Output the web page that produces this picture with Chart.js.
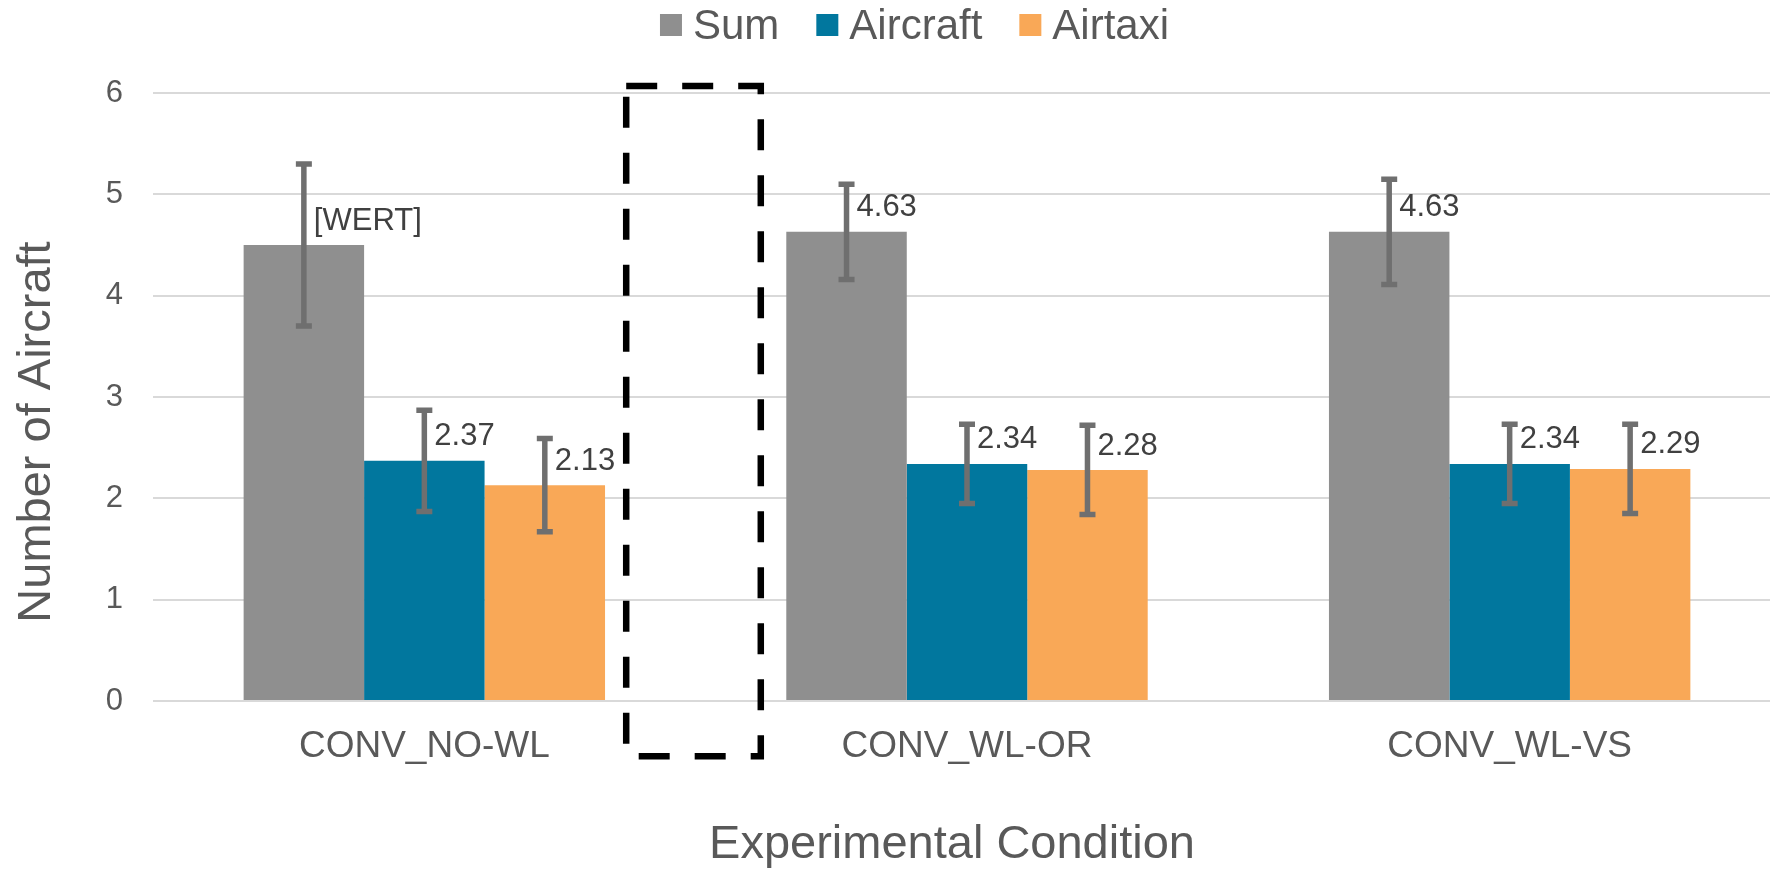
<!DOCTYPE html>
<html>
<head>
<meta charset="utf-8">
<script src="https://cdn.jsdelivr.net/npm/chart.js@4.4.1/dist/chart.umd.min.js"></script>
<style>
html,body{margin:0;padding:0;background:#fff;overflow:hidden;width:1770px;height:872px}
canvas{display:block}
</style>
</head>
<body>
<canvas id="c" width="1781" height="872"></canvas>
<script>
// ---- data ----
const categories = ['CONV_NO-WL', 'CONV_WL-OR', 'CONV_WL-VS'];
const seriesNames = ['Sum', 'Aircraft', 'Airtaxi'];
const sumValues = [4.50, 4.63, 4.63];
const aircraftValues = [2.37, 2.34, 2.34];
const airtaxiValues = [2.13, 2.28, 2.29];
const sumErrors = [0.80, 0.47, 0.52];
const aircraftErrors = [0.50, 0.39, 0.39];
const airtaxiErrors = [0.46, 0.44, 0.44];
const sumLabels = ['[WERT]', '4.63', '4.63'];
const aircraftLabels = ['2.37', '2.34', '2.34'];
const airtaxiLabels = ['2.13', '2.28', '2.29'];
const yTickValues = [0, 1, 2, 3, 4, 5, 6];
const xTitle = 'Experimental Condition';
const yTitle = 'Number of Aircraft';
// dashed highlight box, in category-index / value units
const highlightX = [0.372, 0.62];
const highlightY = [-0.545, 6.07];

const FONT = '"Liberation Sans", Arial, Helvetica, sans-serif';
const colors = ['#8f8f8f', '#01779e', '#f9a857'];
const errorSets = [sumErrors, aircraftErrors, airtaxiErrors];
const labelSets = [sumLabels, aircraftLabels, airtaxiLabels];
const valueSets = [sumValues, aircraftValues, airtaxiValues];

const extras = {
  id: 'extras',
  afterDatasetsDraw(chart) {
    const ctx = chart.ctx;
    const ys = chart.scales.y;
    ctx.save();
    // data labels
    ctx.font = '31px ' + FONT;
    ctx.fillStyle = '#404040';
    ctx.textAlign = 'left';
    ctx.textBaseline = 'middle';
    chart.data.datasets.forEach((ds, di) => {
      const meta = chart.getDatasetMeta(di);
      meta.data.forEach((bar, i) => {
        ctx.fillText(labelSets[di][i], bar.x + 10, bar.y - 24);
      });
    });
    // error bars
    ctx.strokeStyle = '#6f6f6f';
    ctx.lineWidth = 5.5;
    ctx.lineCap = 'butt';
    chart.data.datasets.forEach((ds, di) => {
      const meta = chart.getDatasetMeta(di);
      meta.data.forEach((bar, i) => {
        const v = valueSets[di][i], e = errorSets[di][i];
        const yt = ys.getPixelForValue(v + e);
        const yb = ys.getPixelForValue(v - e);
        ctx.beginPath();
        ctx.moveTo(bar.x, yt); ctx.lineTo(bar.x, yb);
        ctx.moveTo(bar.x - 8, yt); ctx.lineTo(bar.x + 8, yt);
        ctx.moveTo(bar.x - 8, yb); ctx.lineTo(bar.x + 8, yb);
        ctx.stroke();
      });
    });
    ctx.restore();
  },
  afterDraw(chart) {
    const ctx = chart.ctx;
    const ys = chart.scales.y, xs = chart.scales.x;
    ctx.save();
    // dashed highlight box
    const x0 = xs.getPixelForValue(highlightX[0]);
    const x1 = xs.getPixelForValue(highlightX[1]);
    const y0 = ys.getPixelForValue(highlightY[1]);
    const y1 = ys.getPixelForValue(highlightY[0]);
    ctx.strokeStyle = '#000';
    ctx.lineWidth = 6.5;
    ctx.setLineDash([31, 25]);
    ctx.beginPath();
    ctx.rect(x0, y0, x1 - x0, y1 - y0);
    ctx.stroke();
    ctx.setLineDash([]);

    // legend
    ctx.font = '42px ' + FONT;
    ctx.textBaseline = 'middle';
    ctx.textAlign = 'left';
    const box = 22, gapText = 11, gapItem = 37;
    const widths = seriesNames.map(n => ctx.measureText(n).width);
    let total = 0;
    widths.forEach((w, i) => { total += box + gapText + w + (i ? gapItem : 0); });
    let x = 914.5 - total / 2;
    seriesNames.forEach((n, i) => {
      ctx.fillStyle = colors[i];
      ctx.fillRect(x, 14, box, box);
      x += box + gapText;
      ctx.fillStyle = '#595959';
      ctx.fillText(n, x, 27);
      x += widths[i] + gapItem;
    });

    // axis titles
    ctx.font = '47px ' + FONT;
    ctx.fillStyle = '#595959';
    ctx.textAlign = 'center';
    ctx.fillText(xTitle, 952, 845);
    ctx.translate(37, 432);
    ctx.rotate(-Math.PI / 2);
    ctx.fillText(yTitle, 0, 0);
    ctx.restore();
  }
};

new Chart(document.getElementById('c'), {
  type: 'bar',
  data: {
    labels: categories,
    datasets: seriesNames.map((name, i) => ({
      label: name,
      data: valueSets[i],
      backgroundColor: colors[i],
      borderWidth: 0,
      categoryPercentage: 0.666,
      barPercentage: 1.0
    }))
  },
  options: {
    responsive: false,
    animation: false,
    layout: { padding: { top: 93, left: 0, right: 0, bottom: 0 } },
    plugins: {
      legend: { display: false },
      tooltip: { enabled: false },
      title: { display: false }
    },
    scales: {
      x: {
        offset: true,
        grid: { display: false, drawTicks: false },
        border: { display: false },
        ticks: { color: '#595959', font: { family: FONT, size: 37 }, padding: 24, maxRotation: 0 },
        afterFit(scale) { scale.height = 171; }
      },
      y: {
        min: 0,
        max: 6,
        afterBuildTicks(scale) { scale.ticks = yTickValues.map(v => ({ value: v })); },
        grid: { color: '#d9d9d9', lineWidth: 2, drawTicks: false },
        border: { display: false },
        ticks: { color: '#595959', font: { family: FONT, size: 31 }, padding: 30 },
        afterFit(scale) { scale.width = 153; }
      }
    }
  },
  plugins: [extras]
});
</script>
</body>
</html>
